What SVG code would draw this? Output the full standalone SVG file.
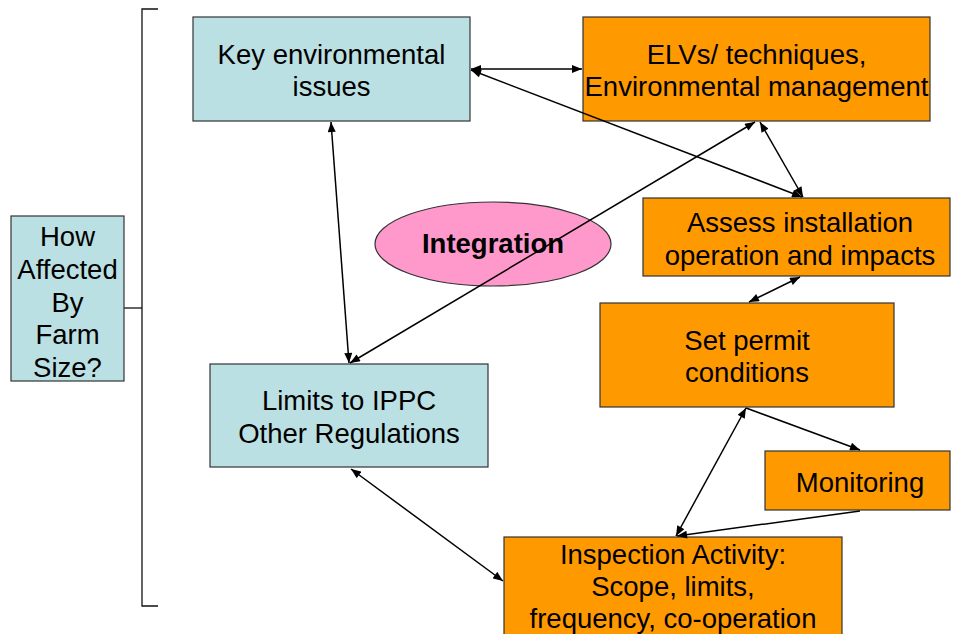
<svg xmlns="http://www.w3.org/2000/svg" width="956" height="634" viewBox="0 0 956 634">
<style>
.blue{fill:#BBE0E3;stroke:#333;stroke-width:1.2}
.orange{fill:#FF9900;stroke:#333;stroke-width:1.2}
.pink{fill:#FF99CC;stroke:#333;stroke-width:1.2}
text{font-family:"Liberation Sans",Arial,sans-serif;font-size:27.5px;fill:#000;text-anchor:middle}
.bold{font-weight:bold;font-size:27.5px}
.c{fill:none;stroke:#000;stroke-width:1.5}
.br{fill:none;stroke:#111;stroke-width:1.3}
</style>
<defs>
<marker id="ah" viewBox="0 0 10 8" refX="10" refY="4" markerWidth="11" markerHeight="8" markerUnits="userSpaceOnUse" orient="auto-start-reverse">
<path d="M0,0 L10,4 L0,8 z" fill="#000"/>
</marker>
</defs>
<g id="bracket">
<path class="br" d="M158,9 H142 V606 H158"/>
<path class="br" d="M124,308 H142"/>
</g>
<g id="farm-size">
<rect class="blue" x="11" y="216" width="113" height="165"/>
<text x="67.5" y="246">How</text>
<text x="67.5" y="279">Affected</text>
<text x="67.5" y="312">By</text>
<text x="67.5" y="344">Farm</text>
<text x="67.5" y="377">Size?</text>
</g>
<g id="key-issues">
<rect class="blue" x="193" y="17" width="277" height="104"/>
<text x="331.5" y="64">Key environmental</text>
<text x="331.5" y="96">issues</text>
</g>
<g id="elvs">
<rect class="orange" x="583" y="17" width="347" height="104"/>
<text x="756.5" y="64">ELVs/ techniques,</text>
<text x="756.5" y="96">Environmental management</text>
</g>
<g id="assess">
<rect class="orange" x="643" y="198" width="307" height="78"/>
<text x="800" y="232">Assess installation</text>
<text x="800" y="265">operation and impacts</text>
</g>
<g id="permit">
<rect class="orange" x="600" y="303" width="294" height="104"/>
<text x="747" y="350">Set permit</text>
<text x="747" y="382">conditions</text>
</g>
<g id="monitoring">
<rect class="orange" x="765" y="451" width="185" height="59"/>
<text x="860" y="492">Monitoring</text>
</g>
<g id="inspection">
<rect class="orange" x="504" y="537" width="338" height="110"/>
<text x="673" y="564">Inspection Activity:</text>
<text x="673" y="596">Scope, limits,</text>
<text x="673" y="628">frequency, co-operation</text>
</g>
<g id="limits">
<rect class="blue" x="210" y="364" width="278" height="103"/>
<text x="349" y="410">Limits to IPPC</text>
<text x="349" y="443">Other Regulations</text>
</g>
<g id="integration">
<ellipse class="pink" cx="493" cy="244" rx="118" ry="42"/>
<text class="bold" x="493" y="253">Integration</text>
</g>
<g id="connectors">
<line class="c" x1="471" y1="69" x2="582" y2="69" marker-start="url(#ah)" marker-end="url(#ah)"/>
<line class="c" x1="471" y1="70" x2="802" y2="197" marker-start="url(#ah)" marker-end="url(#ah)"/>
<line class="c" x1="760" y1="122" x2="803" y2="197" marker-start="url(#ah)" marker-end="url(#ah)"/>
<line class="c" x1="350" y1="363" x2="755" y2="122" marker-start="url(#ah)" marker-end="url(#ah)"/>
<line class="c" x1="331" y1="122" x2="349" y2="363" marker-start="url(#ah)" marker-end="url(#ah)"/>
<line class="c" x1="800" y1="277" x2="749" y2="302" marker-start="url(#ah)" marker-end="url(#ah)"/>
<line class="c" x1="746" y1="408" x2="676" y2="536" marker-start="url(#ah)" marker-end="url(#ah)"/>
<line class="c" x1="746" y1="408" x2="860" y2="450" marker-end="url(#ah)"/>
<line class="c" x1="860" y1="511" x2="677" y2="536" marker-end="url(#ah)"/>
<line class="c" x1="351" y1="469" x2="503" y2="581" marker-start="url(#ah)" marker-end="url(#ah)"/>
</g>
</svg>
